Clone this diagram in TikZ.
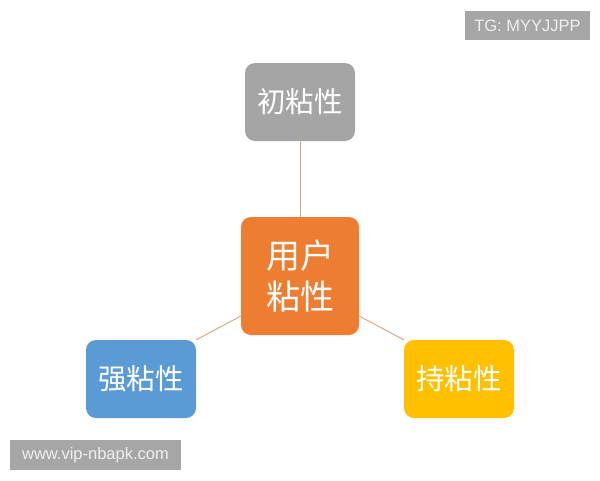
\documentclass[tikz,border=0pt]{standalone}
\usepackage{fontspec}
\setmainfont{Liberation Sans}
\newfontfamily\cjk{Noto Sans CJK SC}

\definecolor{boxgray}{HTML}{A5A5A5}
\definecolor{boxorange}{HTML}{ED7D31}
\definecolor{boxblue}{HTML}{5B9BD5}
\definecolor{boxyellow}{HTML}{FFC000}
\definecolor{linkline}{HTML}{D4A47C}
\definecolor{markgray}{HTML}{A6A6A6}

\begin{document}
\begin{tikzpicture}[x=1pt, y=-1pt,
    kind/.style={rounded corners=10pt, minimum width=110pt, minimum height=78pt,
        text=white, inner sep=0pt, font=\cjk\fontsize{28.5}{34}\selectfont},
    core/.style={kind, minimum width=118pt, minimum height=118pt,
        align=center, font=\cjk\fontsize{34}{41}\selectfont},
    link/.style={linkline, line width=0.9pt},
    stamp/.style={fill=markgray, text=white!94!black, inner sep=0pt,
        font=\fontsize{16.5}{18}\selectfont}]

    % Page size
    \def\w{600}
    \def\h{480}
    \useasboundingbox (0,0) rectangle (\w,\h);
    \fill[white] (0,0) rectangle (\w,\h);

    % Boxes
    \node[core, fill=boxorange] (user) at (300,276) {用户\\粘性};
    \node[kind, fill=boxgray]   (first) at (300,102) {初粘性};
    \node[kind, fill=boxblue]   (strong) at (141,379) {强粘性};
    \node[kind, fill=boxyellow] (lasting) at (459,379) {持粘性};

    % Links
    \draw[link] (user.north) -- (first.south);
    \draw[link] (user.west |- 0,316) -- (strong.north east);
    \draw[link] (user.east |- 0,316) -- (lasting.north west);

    % Watermarks
    \node[stamp, minimum width=125pt, minimum height=29pt] (tg) at (527.5,25.5) {TG: MYYJJPP};
    \node[stamp, minimum width=171pt, minimum height=30pt] (site) at (95.5,455) {www.vip-nbapk.com};

\end{tikzpicture}
\end{document}
